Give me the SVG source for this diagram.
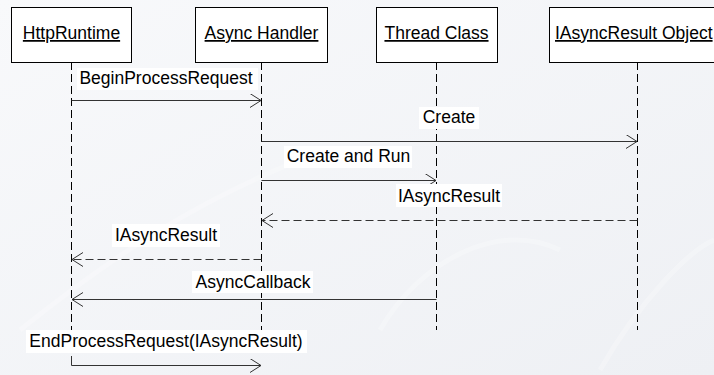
<svg xmlns="http://www.w3.org/2000/svg" width="714" height="375" viewBox="0 0 714 375">
  <defs>
    <marker id="open" markerUnits="userSpaceOnUse" markerWidth="14" markerHeight="16" refX="11" refY="7" orient="auto">
      <path d="M0,0 L11,7 L0,14" fill="none" stroke="#333" stroke-width="1"/>
    </marker>
    <linearGradient id="bg" x1="0" y1="0" x2="1" y2="1">
      <stop offset="0" stop-color="#f8f9fb"/>
      <stop offset="1" stop-color="#eef0f4"/>
    </linearGradient>
  </defs>
  <style>
    .box { fill: #ffffff; stroke: #000; stroke-width: 1; }
    .name { font-family: "Liberation Sans", Arial, sans-serif; font-size: 17.5px; fill: #000; text-decoration: underline; }
    .life { stroke: #000; stroke-width: 1; stroke-dasharray: 8 4; fill: none; }
    .msg { stroke: #333; stroke-width: 1; fill: none; marker-end: url(#open); }
    .ret { stroke-dasharray: 8 4; }
    .lbg { fill: #ffffff; }
    .lbl { font-family: "Liberation Sans", Arial, sans-serif; font-size: 17.5px; fill: #000; text-anchor: middle; }
  </style>
  <rect x="0" y="0" width="714" height="375" fill="url(#bg)"/>
  <g opacity="0.25" fill="none" stroke="#ffffff" stroke-width="5">
    <path d="M20,330 C120,250 200,200 300,160"/>
    <path d="M380,330 C420,260 500,220 560,250"/>
    <path d="M600,370 C640,300 690,250 714,240"/>
  </g>

  <g id="lifelines">
    <line class="life" x1="71.5" y1="62" x2="71.5" y2="330"/>
    <line class="life" x1="261.5" y1="62" x2="261.5" y2="330"/>
    <line class="life" x1="436.5" y1="62" x2="436.5" y2="330"/>
    <line class="life" x1="637.5" y1="62" x2="637.5" y2="330"/>
  </g>

  <g id="node-httpruntime">
    <rect class="box" x="11.5" y="7.5" width="120" height="55"/>
    <text class="name" x="71.5" y="39" text-anchor="middle">HttpRuntime</text>
  </g>
  <g id="node-asynchandler">
    <rect class="box" x="195.5" y="7.5" width="132" height="55"/>
    <text class="name" x="261.5" y="39" text-anchor="middle">Async Handler</text>
  </g>
  <g id="node-threadclass">
    <rect class="box" x="376.5" y="7.5" width="121" height="55"/>
    <text class="name" x="436.5" y="39" text-anchor="middle">Thread Class</text>
  </g>
  <g id="node-iasyncresult">
    <rect class="box" x="549.5" y="7.5" width="180" height="55"/>
    <text class="name" x="555" y="39">IAsyncResult Object</text>
  </g>

  <g id="connectors">
    <line class="msg" x1="71.5" y1="100.5" x2="261" y2="100.5"/>
    <line class="msg" x1="261.5" y1="141.5" x2="637" y2="141.5"/>
    <line class="msg" x1="261.5" y1="180.5" x2="436" y2="180.5"/>
    <line class="msg ret" x1="637.5" y1="220.5" x2="262" y2="220.5"/>
    <line class="msg ret" x1="261.5" y1="259.5" x2="72" y2="259.5"/>
    <line class="msg" x1="436.5" y1="299.5" x2="72" y2="299.5"/>
    <path class="msg" d="M71.5,356 L71.5,365.5 L261,365.5"/>

    <rect class="lbg" x="77" y="68" width="181" height="22"/>
    <text class="lbl" x="166" y="84">BeginProcessRequest</text>
    <rect class="lbg" x="419" y="107" width="60" height="22"/>
    <text class="lbl" x="449" y="123">Create</text>
    <rect class="lbg" x="284" y="146" width="128" height="22"/>
    <text class="lbl" x="348.5" y="162">Create and Run</text>
    <rect class="lbg" x="396" y="184" width="106" height="23"/>
    <text class="lbl" x="449" y="201.5">IAsyncResult</text>
    <rect class="lbg" x="112" y="224" width="108" height="23"/>
    <text class="lbl" x="166" y="241">IAsyncResult</text>
    <rect class="lbg" x="192" y="271" width="121" height="22"/>
    <text class="lbl" x="253" y="287.5">AsyncCallback</text>
    <rect class="lbg" x="26" y="330" width="281" height="23"/>
    <text class="lbl" x="166" y="346.5">EndProcessRequest(IAsyncResult)</text>
  </g>
</svg>
